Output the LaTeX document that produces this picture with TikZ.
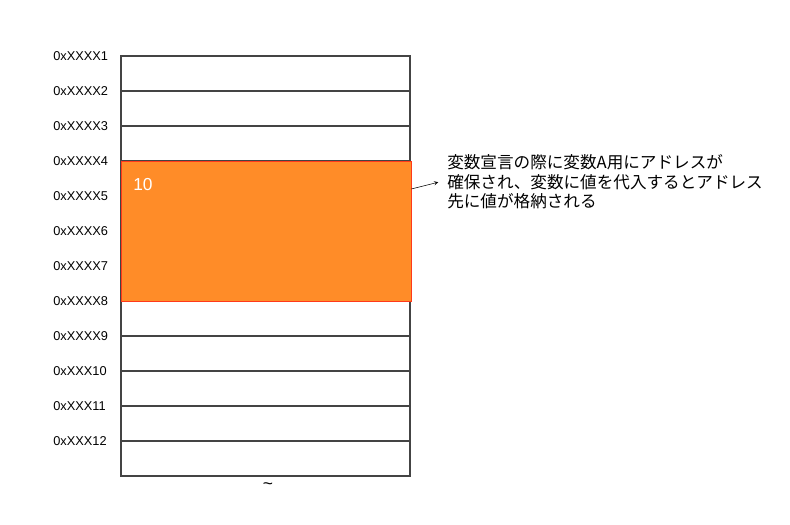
\documentclass[tikz,border=0pt]{standalone}
\usepackage{fontspec}
\setmainfont{Liberation Sans}
\newfontfamily\jpfont{Noto Sans CJK JP}
\usetikzlibrary{positioning}
\definecolor{gridgray}{HTML}{444444}
\definecolor{valorange}{HTML}{FF8C28}
\definecolor{valred}{HTML}{FF3A1A}

\begin{document}
\begin{tikzpicture}[x=0.75pt,y=-0.75pt,
    cell/.style={draw=gridgray,line width=1.5pt,minimum width=216.75pt,minimum height=26.25pt,inner sep=0pt},
    addr/.style={font=\fontsize{9.6}{11}\selectfont,inner sep=0pt,anchor=west},
    valbox/.style={fill=valorange,draw=valred,line width=0.6pt,minimum width=217pt,minimum height=105pt,inner sep=0pt}]
           \useasboundingbox (0,0) rectangle (790,525);
           % memory cells and their addresses
           \foreach \i in {1,...,12} {
               \node[cell] (r\i) at (265.5, 38.5+35*\i) {};
               \node[addr] (a\i) at (53, 21+35*\i) {\ifnum\i<10 0xXXXX\i\else 0xXXX\i\fi};
           }
           \node[valbox] (var) at (266.25, 231) {};
           \node[text=white,font=\fontsize{13}{15}\selectfont,anchor=west,inner sep=0pt] (val) at (133, 185) {10};
           \node[font=\fontsize{13}{15}\selectfont,inner sep=0pt] (more) at (268, 486) {\textasciitilde};
           \node[anchor=west,align=left,inner sep=0pt,font=\jpfont\fontsize{12.45}{14.6}\selectfont] (note) at (447, 182)
               {変数宣言の際に変数A用にアドレスが\\確保され、変数に値を代入するとアドレス\\先に値が格納される};
            \path[->,thin,shorten >=6.75pt,>=stealth]
            (var.east |- 0,189) edge (note.west |- 0,180);
        \end{tikzpicture}
\end{document}
